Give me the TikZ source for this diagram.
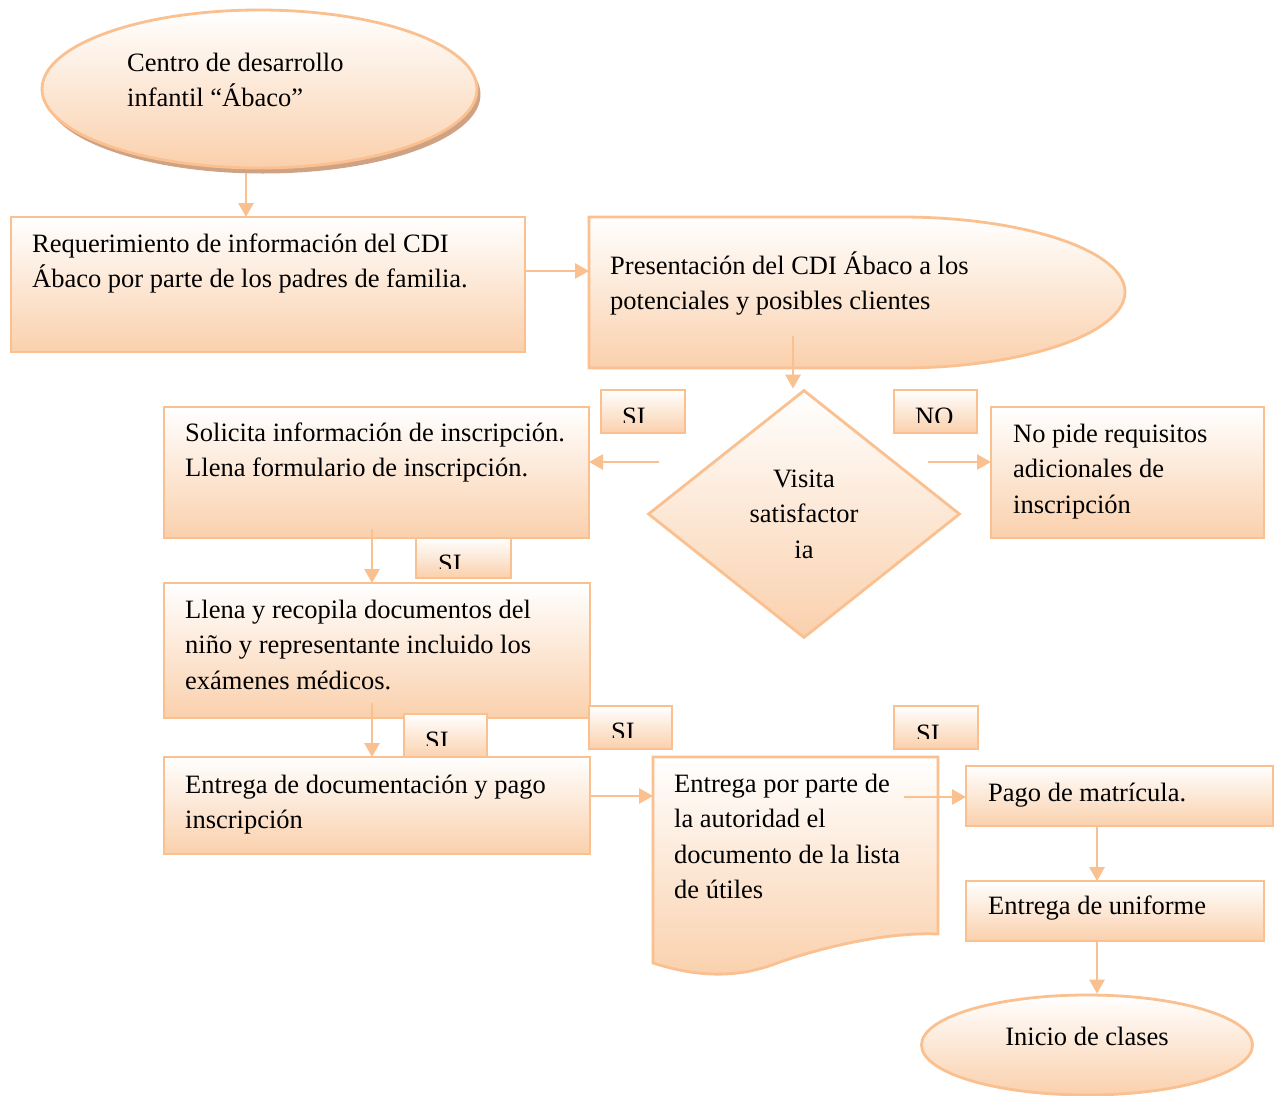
\documentclass[tikz,border=0pt]{standalone}
\usepackage{fontspec}
\setmainfont{Liberation Serif}
\usetikzlibrary{shapes.geometric,arrows.meta}
\definecolor{bordc}{HTML}{FAC090}
\definecolor{peach}{HTML}{FAD0AC}
\definecolor{shadc}{HTML}{CFA283}
\newcommand{\sk}{\rule{0pt}{25pt}}
\begin{document}
\begin{tikzpicture}[x=1pt,y=-1pt,
  shp/.style={draw=bordc, line width=2.8pt, top color=white, bottom color=peach},
  box/.style={shp, rectangle, anchor=north west, inner sep=0pt, outer sep=0pt},
  txt/.style={anchor=north west, inner sep=0pt, align=left, font=\fontsize{26.5}{35.5}\selectfont},
  ctxt/.style={anchor=north, inner sep=0pt, align=center, font=\fontsize{26.5}{35.5}\selectfont},
  arr/.style={bordc, line width=2.8pt, -{Triangle[length=14pt,width=15pt]}}
]
\fill[white] (0,0) rectangle (1276,1095);
\useasboundingbox (0,0) rectangle (1276,1095);

% top ellipse with shadow
\fill[shadc] (263,94.5) ellipse [x radius=217.5, y radius=79];
\node[shp, ellipse, minimum width=435, minimum height=158, inner sep=0pt] (cdi) at (259.5,89) {};

\node[box, minimum width=514, minimum height=135] (req) at (11,217) {};
\path[shp] (589,217) -- (901,217) .. controls (1025,217) and (1125,251) .. (1125,292)
  .. controls (1125,333) and (1025,368) .. (901,368) -- (589,368) -- cycle;
\coordinate (pres-w) at (589,271);
\coordinate (pres-s) at (793,336);

\node[box, minimum width=84, minimum height=43] (si1) at (601,390) {};
\node[box, minimum width=83, minimum height=43] (no1) at (894,390) {};
\node[shp, diamond, minimum width=312, minimum height=248, inner sep=0pt] (dia) at (804,514) {};
\node[box, minimum width=425, minimum height=131] (sol) at (164,407) {};
\node[box, minimum width=273, minimum height=131] (nop) at (991,407) {};
\node[box, minimum width=95, minimum height=40] (si2) at (416,538) {};
\node[box, minimum width=426, minimum height=135] (lle) at (164,583) {};
\node[box, minimum width=83, minimum height=45] (si3) at (404,714) {};
\node[box, minimum width=83, minimum height=43] (si4) at (589,706) {};
\node[box, minimum width=84, minimum height=43] (si5) at (894,706) {};
\node[box, minimum width=426, minimum height=97] (ent) at (164,757) {};
\path[shp] (653,757) -- (938,757) -- (938,934) .. controls (890,932) and (830,945) .. (780,962)
  .. controls (740,978) and (700,978) .. (653,963) -- cycle;
\coordinate (doc-w) at (653,796);
\coordinate (doc-e) at (904,797);
\node[box, minimum width=307, minimum height=60] (pag) at (966,766) {};
\node[box, minimum width=298, minimum height=60] (uni) at (966,881) {};
\node[shp, ellipse, minimum width=331, minimum height=100, inner sep=0pt] (ini) at (1087,1045) {};

% connectors
\coordinate (c1) at (246,173);
\draw[arr] (c1) -- (c1 |- req.north);
\draw[arr] (pres-w -| req.east) -- (pres-w);
\draw[arr] (pres-s) -- (pres-s |- dia.north);
\coordinate (c2) at (659,462);
\draw[arr] (c2) -- (c2 -| sol.east);
\coordinate (c3) at (928,462);
\draw[arr] (c3) -- (c3 -| nop.west);
\coordinate (c4) at (372,529);
\draw[arr] (c4) -- (c4 |- lle.north);
\coordinate (c5) at (372,703);
\draw[arr] (c5) -- (c5 |- ent.north);
\draw[arr] (doc-w -| ent.east) -- (doc-w);
\draw[arr] (doc-e) -- (doc-e -| pag.west);
\coordinate (c8) at (1097,826);
\draw[arr] (c8) -- (c8 |- uni.north);
\coordinate (c9) at (1097,941);
\draw[arr] (c9) -- (c9 |- ini.north);

% texts
\node[txt] (cdi-t) at (127,46) {\sk Centro de desarrollo\\infantil “Ábaco”};
\node[txt] (req-t) at (32,227) {\sk Requerimiento de información del CDI\\Ábaco por parte de los padres de familia.};
\node[txt] (pres-t) at (610,249) {\sk Presentación del CDI Ábaco a los\\potenciales y posibles clientes};
\node[txt] (sol-t) at (185,416) {\sk Solicita información de inscripción.\\Llena formulario de inscripción.};
\node[txt] (nop-t) at (1013,417) {\sk No pide requisitos\\adicionales de\\inscripción};
\node[ctxt] (dia-t) at (804,462) {\sk Visita\\satisfactor\\ia};
\node[txt] (lle-t) at (185,593) {\sk Llena y recopila documentos del\\niño y representante incluido los\\exámenes médicos.};
\node[txt] (ent-t) at (185,768) {\sk Entrega de documentación y pago\\inscripción};
\node[txt] (doc-t) at (674,767) {\sk Entrega por parte de\\la autoridad el\\documento de la lista\\de útiles};
\node[txt] (pag-t) at (988,776) {\sk Pago de matrícula.};
\node[txt] (uni-t) at (988,889) {\sk Entrega de uniforme};
\node[ctxt] (ini-t) at (1087,1020) {\sk Inicio de clases};

% clipped SI / NO labels
\begin{scope}\clip (601,392) rectangle (686,422); \node[txt] (si1-t) at (622,400.5) {\sk SI};\end{scope}
\begin{scope}\clip (894,392) rectangle (978,422); \node[txt] (no1-t) at (915,400.5) {\sk NO};\end{scope}
\begin{scope}\clip (416,540) rectangle (511,568); \node[txt] (si2-t) at (438,547.5) {\sk SI};\end{scope}
\begin{scope}\clip (404,716) rectangle (487,745); \node[txt] (si3-t) at (425,724.5) {\sk SI};\end{scope}
\begin{scope}\clip (589,708) rectangle (672,737); \node[txt] (si4-t) at (611,715.5) {\sk SI};\end{scope}
\begin{scope}\clip (894,708) rectangle (978,738); \node[txt] (si5-t) at (916,717.5) {\sk SI};\end{scope}
\end{tikzpicture}
\end{document}
